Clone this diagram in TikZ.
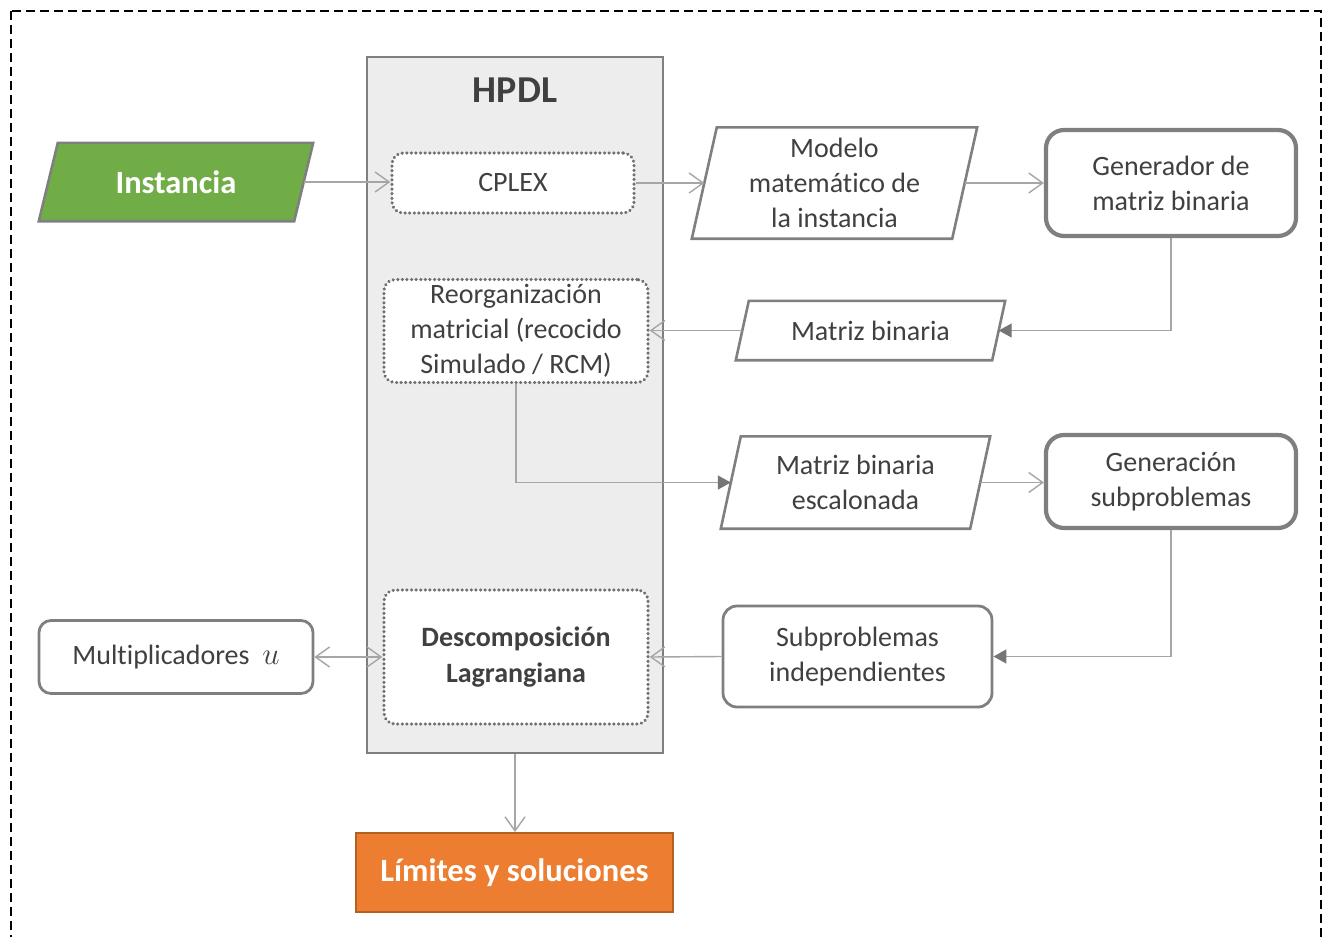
\RequirePackage{fix-cm}
\documentclass[tikz,border=0pt]{standalone}
\usepackage{fontspec}
\setmainfont{Carlito}[Ligatures=NoCommon]
\usetikzlibrary{arrows.meta,calc}

\definecolor{edgegray}{HTML}{7F7F7F}
\definecolor{dotgray}{HTML}{6F6F6F}
\definecolor{linkgray}{HTML}{A6A6A6}
\definecolor{tipgray}{HTML}{767676}
\definecolor{txtgray}{HTML}{404040}
\definecolor{panelfill}{HTML}{EDEDED}
\definecolor{instgreen}{HTML}{70AD47}
\definecolor{resorange}{HTML}{ED7D31}
\definecolor{resedge}{HTML}{B4601F}

\pgfdeclarelayer{bg}
\pgfsetlayers{bg,main}

% slanted data box drawn behind a named node: #1 node, #2 slant offset, #3 fill
\newcommand\slantbox[3]{%
  \begin{pgfonlayer}{bg}
    \draw[edgegray, line width=2.6pt, fill=#3, line join=miter]
      (#1.south west) -- ($(#1.north west)+(#2,0)$) -- (#1.north east)
      -- ($(#1.south east)-(#2,0)$) -- cycle;
  \end{pgfonlayer}}

\begin{document}
\begin{tikzpicture}[x=1pt,y=-1pt,
  every node/.style={font=\fontsize{28}{35}\selectfont, text=txtgray,
    align=center, inner sep=0pt},
  panel/.style={draw=edgegray, fill=panelfill, line width=2pt},
  dotbox/.style={draw=dotgray, fill=white, line width=3.4pt,
    line cap=round, dash pattern=on 0.1pt off 4.5pt, rounded corners=11pt},
  procbox/.style={draw=edgegray, fill=white, line width=4.2pt,
    rounded corners=18pt},
  plainbox/.style={draw=edgegray, fill=white, line width=2.8pt,
    rounded corners=14pt},
  slant/.style={draw=none},
  boldtxt/.style={font=\fontsize{32.5}{38}\selectfont\bfseries},
  link/.style={draw=linkgray, line width=1.4pt,
    -{Straight Barb[length=14pt,width=20pt,line width=1.4pt]}},
  linkboth/.style={draw=linkgray, line width=1.4pt,
    {Straight Barb[length=14pt,width=20pt,line width=1.4pt]}-{Straight Barb[length=14pt,width=20pt,line width=1.4pt]}},
  feed/.style={draw=linkgray, line width=1.4pt,
    -{Triangle[length=13pt,width=14pt,color=tipgray]}},
]
\useasboundingbox (0,0) rectangle (1323,937);
\clip (0,0) rectangle (1323,937);

% outer frame
\draw[black, line width=1.8pt, dash pattern=on 9pt off 5pt]
  (11,11) rectangle (1321,960);

% HPDL panel and its inner steps
\node[panel, minimum width=296pt, minimum height=696pt] (hpdl) at (515,405) {};
\node[font=\fontsize{38}{42}\selectfont\bfseries] (title) at (515,90) {HPDL};
\node[dotbox, minimum width=242pt, minimum height=60pt] (cplex) at (513,183) {CPLEX};
\node[dotbox, minimum width=264pt, minimum height=103pt] (reorg) at (516,331)
  {Reorganización\\matricial (recocido\\Simulado / RCM)};
\node[dotbox, minimum width=264pt, minimum height=134pt,
  font=\fontsize{28}{36}\selectfont\bfseries] (desc) at (516,657)
  {Descomposición\\Lagrangiana};

% input
\node[slant, minimum width=274pt, minimum height=78pt, boldtxt, text=white]
  (inst) at (176,182) {Instancia};
\slantbox{inst}{19}{instgreen}

% data boxes
\node[slant, minimum width=285pt, minimum height=111pt] (modelo) at (834.5,183)
  {Modelo\\matemático de\\la instancia};
\slantbox{modelo}{25}{white}
\node[slant, minimum width=269pt, minimum height=59pt] (matriz) at (870.5,330.5)
  {Matriz binaria};
\slantbox{matriz}{13}{white}
\node[slant, minimum width=269pt, minimum height=92pt] (escal) at (855.5,482.5)
  {Matriz binaria\\escalonada};
\slantbox{escal}{20}{white}

% process boxes
\node[procbox, minimum width=250pt, minimum height=106pt] (gen) at (1171,183)
  {Generador de\\matriz binaria};
\node[procbox, minimum width=250pt, minimum height=93pt] (genr) at (1171,481.5)
  {Generación\\subproblemas};
\node[plainbox, minimum width=269pt, minimum height=101pt] (subp) at (857.5,656.5)
  {Subproblemas\\independientes};
\node[plainbox, minimum width=274pt, minimum height=73pt, rounded corners=12pt]
  (mult) at (176,657) {Multiplicadores \ {\fontsize{31}{35}\selectfont$u$}};

% result
\node[draw=resedge, fill=resorange, line width=2pt, minimum width=317pt,
  minimum height=79pt, boldtxt, text=white] (lim) at (514.5,872.5)
  {Límites y soluciones};

% connectors
\draw[link] ($(inst.east)-(9.5,0)$) -- (inst.east -| cplex.west);
\draw[link] (cplex.east) -- ($(modelo.west)+(12.5,0)$);
\draw[link] ($(modelo.east)-(12.5,0)$) -- (gen.west);
\draw[feed] (gen.south) |- ($(matriz.east)-(6.5,0)$);
\draw[link] ($(matriz.west)+(6.5,0)$) -- (matriz.west -| reorg.east);
\draw[feed] (reorg.south) |- ($(escal.west)+(10,0)$);
\draw[link] ($(escal.east)-(10,0)$) -- (escal.east -| genr.west);
\draw[feed] (genr.south) |- (subp.east);
\draw[link] (subp.west) -- (desc.east);
\draw[linkboth] (mult.east) -- (mult.east -| desc.west);
\draw[link] (hpdl.south) -- (hpdl.south |- lim.north);
\end{tikzpicture}
\end{document}
